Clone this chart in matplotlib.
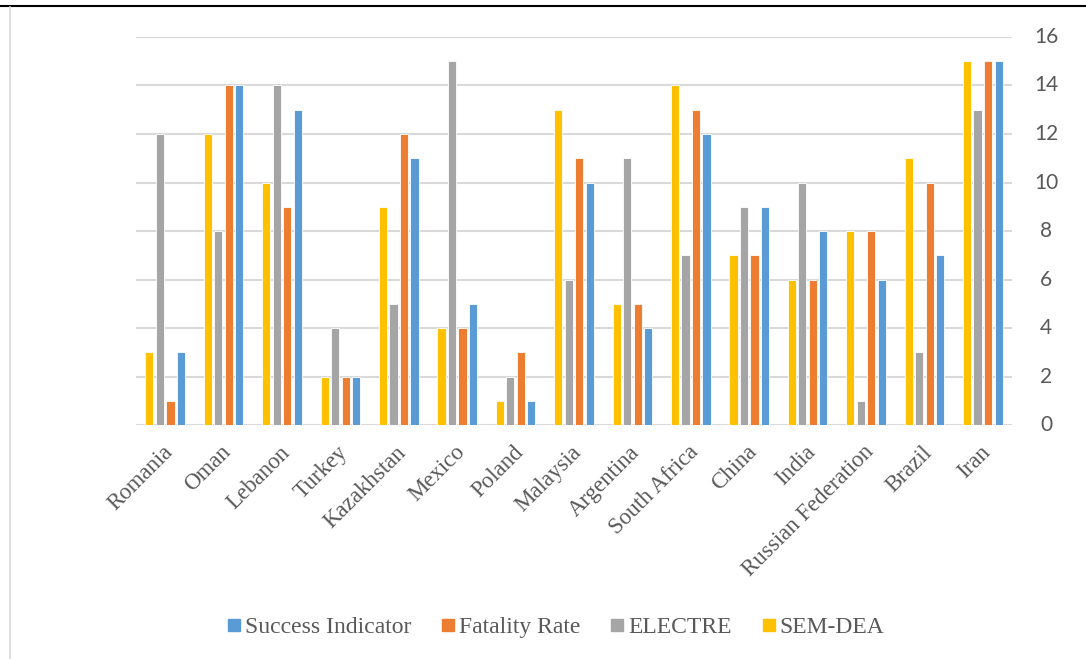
import matplotlib
matplotlib.use('Agg')
from matplotlib import pyplot as plt
from matplotlib.lines import Line2D
from matplotlib.transforms import ScaledTranslation
import numpy as np

countries = ['Romania', 'Oman', 'Lebanon', 'Turkey', 'Kazakhstan', 'Mexico', 'Poland',
             'Malaysia', 'Argentina', 'South Africa', 'China', 'India',
             'Russian Federation', 'Brazil', 'Iran']
sem_dea = [3, 12, 10, 2, 9, 4, 1, 13, 5, 14, 7, 6, 8, 11, 15]
electre = [12, 8, 14, 4, 5, 15, 2, 6, 11, 7, 9, 10, 1, 3, 13]
fatality = [1, 14, 9, 2, 12, 4, 3, 11, 5, 13, 7, 6, 8, 10, 15]
success = [3, 14, 13, 2, 11, 5, 1, 10, 4, 12, 9, 8, 6, 7, 15]
y_ticks = list(range(0, 17, 2))

series = [('SEM-DEA', sem_dea, '#FFC000'),
          ('ELECTRE', electre, '#A5A5A5'),
          ('Fatality Rate', fatality, '#ED7D31'),
          ('Success Indicator', success, '#5B9BD5')]

fig = plt.figure(figsize=(10.86, 6.59), dpi=100)
ax = fig.add_axes([0.1252, 0.355, 0.8067, 0.5889])

x = np.arange(len(countries))
pitch = 0.18
width = 0.14
for i, (name, vals, col) in enumerate(series):
    ax.bar(x + (i - 1.5) * pitch, vals, width, color=col, edgecolor='white',
           linewidth=0.6, label=name, zorder=3)

ax.set_xlim(-0.5, len(countries) - 0.5)
ax.set_ylim(0, 16)
ax.grid(axis='y', color='#d9d9d9', linewidth=1.5, zorder=0)
for s in ax.spines.values():
    s.set_visible(False)

# value axis on the right: labels centred in a column beside the plot
ax.set_yticks(y_ticks)
ax.tick_params(axis='y', left=False, right=False, labelleft=False, labelright=False)
ytrans = ax.get_yaxis_transform()
for v in y_ticks:
    ax.text(1.0388, v, str(v), transform=ytrans, ha='center', va='center',
            fontfamily='Lato', fontsize=15, color='#595959')

ax.set_xticks(x)
ax.set_xticklabels(countries, rotation=45, ha='right', rotation_mode='anchor',
                   fontfamily='Liberation Serif', fontsize=16.5, color='#595959')
ax.tick_params(axis='x', length=0, pad=12)
for t in ax.get_xticklabels():
    t.set_transform(t.get_transform() + ScaledTranslation(-0.03, 0, fig.dpi_scale_trans))

# legend along the bottom, reversed order
handles = [Line2D([], [], marker='s', linestyle='none', markersize=8.3,
                  markerfacecolor=col, markeredgecolor=col)
           for _, _, col in series[::-1]]
labels = [name for name, _, _ in series[::-1]]
leg = fig.legend(handles, labels, loc='center', bbox_to_anchor=(0.5124, 0.0478), ncol=4,
                 frameon=False, handletextpad=0.22, columnspacing=1.3, handlelength=0.5,
                 borderpad=0, borderaxespad=0,
                 prop={'family': 'Liberation Serif', 'size': 17})
for t in leg.get_texts():
    t.set_color('#595959')

# outer frame
fig.add_artist(Line2D([0, 1], [0.991, 0.991], color='black', linewidth=1.5, transform=fig.transFigure))
fig.add_artist(Line2D([0.0095, 0.0095], [0, 0.989], color='#d9d9d9', linewidth=1.2, transform=fig.transFigure))

fig.savefig('out.png', dpi=100)
